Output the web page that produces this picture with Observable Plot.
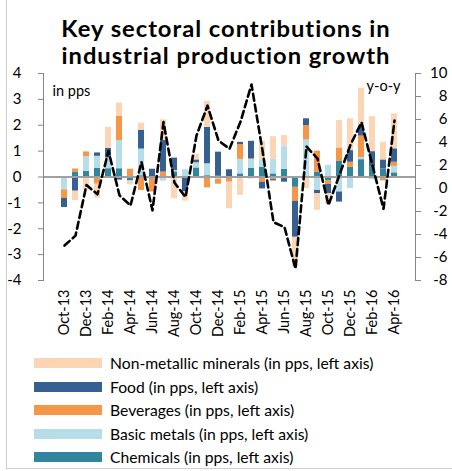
<!DOCTYPE html>
<html>
<head>
<meta charset="utf-8">
<script src="https://cdn.jsdelivr.net/npm/d3@7"></script>
<script src="https://cdn.jsdelivr.net/npm/@observablehq/plot@0.6"></script>
<style>
  html, body { margin: 0; padding: 0; background: #fff; }
  #wrap { position: relative; width: 452px; height: 471px; overflow: hidden; font-family: Lato, "Open Sans", sans-serif; }
  .title { position: absolute; left: 0; width: 452px; text-align: center; font-weight: bold; font-size: 22px; line-height: normal; letter-spacing: 0.9px; color: #000; white-space: nowrap; transform: scaleX(1.08); transform-origin: 226px 0; }
  #t1 { top: 15px; }
  #t2 { top: 42px; }
  #chart { position: absolute; left: 0; top: 0; }
  #legend { position: absolute; left: 0; top: 351px; }
  .row { position: relative; height: 23.5px; }
  .sw { position: absolute; left: 34px; top: 7px; width: 68px; height: 10px; }
  .lb { position: absolute; left: 110px; top: 1px; font-size: 15.7px; line-height: 22px; color: #000; white-space: nowrap; }
  #border { position: absolute; left: 6px; top: -2px; width: 460px; height: 470px; border-left: 1px solid #d0d0d0; border-bottom: 1px solid #d0d0d0; }
</style>
</head>
<body>
<div id="wrap">
  <div id="border"></div>
  <div id="chart"></div>
  <div class="title" id="t1">Key sectoral contributions in</div>
  <div class="title" id="t2">industrial production growth</div>
  <div id="legend"></div>
</div>
<script>
const months = ["Oct-13","Nov-13","Dec-13","Jan-14","Feb-14","Mar-14","Apr-14","May-14","Jun-14","Jul-14","Aug-14","Sep-14","Oct-14","Nov-14","Dec-14","Jan-15","Feb-15","Mar-15","Apr-15","May-15","Jun-15","Jul-15","Aug-15","Sep-15","Oct-15","Nov-15","Dec-15","Jan-16","Feb-16","Mar-16","Apr-16"];

const chemicals = [0, 0.19, 0.22, 0.33, 0.32, 0.32, -0.15, 0.05, -0.08, 0, 0.2, 0, 0.35, 0.05, 0.03, 0, 0.12, 0.34, 0.38, 0.12, 0.3, -0.4, 0.03, 0.19, -0.15, 0.6, 0.38, 0.67, 0.38, 0.31, 0.16];
const basicMetals = [-0.5, 0, 0.57, 0.47, 0.41, 1.09, -0.05, 1.03, 0, -0.16, 0.05, 0.28, 0.18, 0.46, -0.08, 0, 0.56, 0.33, 0.26, 0.57, 0.9, 0, 1.4, -0.52, 0.45, -0.58, -0.45, 0.08, -0.1, 0, 0.25];
const beverages = [-0.33, 0.12, 0.18, -0.28, 0, 0.94, 0.3, -0.52, -0.5, 0.19, 0, 0, 0.03, -0.42, -0.2, -0.2, 0.57, 0.03, -0.2, -0.1, 0, -0.54, 0.56, 0.81, -0.14, 0.52, 0.19, 0.83, 0, -0.15, 0.16];
const food = [-0.35, -0.55, 0, 0.13, 0.38, -0.12, 0, 0.73, 0.3, 1.22, 0.48, -0.58, 0.1, 1.41, 0.93, 0.28, 0.09, 0.68, -0.26, -0.05, -0.2, -1.39, 0.26, -0.13, -0.36, -0.39, 0.45, 0.38, 0.6, 0.35, 0.52];
const nonMetallic = [0, -0.36, -0.5, -0.54, 0.81, 0.51, -0.1, 0.27, 0, 0.8, -0.84, -0.35, 0.22, 1.0, 0, -1.03, -0.71, -0.08, 0.73, 0.87, 0.4, -1.13, -0.45, -0.64, -0.4, 1.06, 1.23, 1.47, 1.35, 0.68, 1.35];
const yoy = [-4.96, -4.1, 0.3, -0.5, 3.25, -0.6, -1.48, 2.3, -1.9, 5.77, 0.5, -0.75, 4.6, 7.2, 4.17, 3.45, 5.8, 9.04, 3.3, -2.93, -3.36, -6.98, 3.65, 2.6, -1.45, 1.2, 3.8, 5.75, 2.0, -1.77, 5.9];

const seriesNames = ["Chemicals (in pps, left axis)", "Basic metals (in pps, left axis)", "Beverages (in pps, left axis)", "Food (in pps, left axis)", "Non-metallic minerals (in pps, left axis)"];
const seriesColors = ["#31859C", "#B7DEE8", "#F79646", "#376092", "#FCD5B5"];
const seriesValues = [chemicals, basicMetals, beverages, food, nonMetallic];

const leftTicks = [-4, -3, -2, -1, 0, 1, 2, 3, 4];
const rightTicks = [-8, -6, -4, -2, 0, 2, 4, 6, 8, 10];
const xTickLabels = months.filter((d, i) => i % 2 === 0);

// map right-axis values onto left-axis scale
const toL = v => -4 + (v + 8) * 8 / 18;
const fromL = d => Math.round((d + 4) * 18 / 8 - 8);

const table = [];
months.forEach((m, i) => {
  seriesNames.forEach((s, k) => table.push({month: m, series: s, value: seriesValues[k][i]}));
});
const lineData = months.map((m, i) => ({month: m, v: toL(yoy[i])}));

const axisColor = "#868686";
const font = "Lato, 'Open Sans', sans-serif";

const chart = Plot.plot({
  width: 452,
  height: 350,
  marginTop: 73,
  marginBottom: 70,
  marginLeft: 43,
  marginRight: 37,
  style: {fontFamily: font, fontSize: "14px", color: "#000", background: "transparent"},
  x: {type: "band", domain: months, padding: 0.42, axis: null},
  y: {domain: [-4, 4], axis: null},
  color: {domain: seriesNames, range: seriesColors},
  marks: [
    Plot.barY(table, {x: "month", y: "value", fill: "series"}),
    Plot.ruleY([0], {stroke: "#a0a0a0", strokeWidth: 2}),
    Plot.frame({anchor: "left", stroke: axisColor}),
    Plot.frame({anchor: "right", stroke: axisColor}),
    Plot.line(lineData, {x: "month", y: "v", stroke: "#000", strokeWidth: 2.6, strokeDasharray: "7,4"}),
    Plot.axisY(leftTicks, {anchor: "left", tickSize: 5, tickPadding: 17, stroke: axisColor, fill: "#000", fontSize: 15, label: null, tickFormat: d => String(d)}),
    Plot.axisY(rightTicks.map(toL), {anchor: "right", tickSize: 5, tickPadding: 27, textAnchor: "end", stroke: axisColor, fill: "#000", fontSize: 15, label: null, tickFormat: fromL}),
    Plot.axisX(xTickLabels, {anchor: "bottom", tickSize: 0, tickPadding: 9, tickRotate: -90, fill: "#000", fontSize: 14.5, label: null}),
    Plot.text(["in pps"], {frameAnchor: "top-left", dx: 9, dy: 12, textAnchor: "start", fontSize: 14.5, fill: "#000"}),
    Plot.text(["y-o-y"], {frameAnchor: "top-right", dx: -15, dy: 7, textAnchor: "end", fontSize: 14.5, fill: "#000"})
  ]
});
document.getElementById("chart").appendChild(chart);

const legend = document.getElementById("legend");
for (let k = seriesNames.length - 1; k >= 0; k--) {
  const row = document.createElement("div");
  row.className = "row";
  const sw = document.createElement("div");
  sw.className = "sw";
  sw.style.background = seriesColors[k];
  const lb = document.createElement("div");
  lb.className = "lb";
  lb.textContent = seriesNames[k];
  row.appendChild(sw);
  row.appendChild(lb);
  legend.appendChild(row);
}
</script>
</body>
</html>
